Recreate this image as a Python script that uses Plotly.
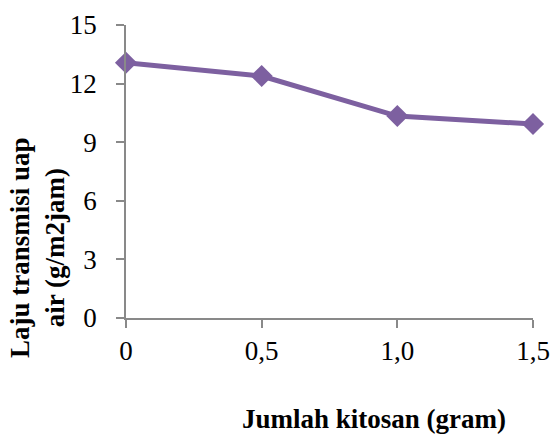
import plotly.graph_objects as go

kitosan = [0, 0.5, 1.0, 1.5]
laju = [13.07, 12.39, 10.34, 9.93]
x_ticks = [0, 0.5, 1.0, 1.5]
x_labels = ["0", "0,5", "1,0", "1,5"]
y_ticks = [0, 3, 6, 9, 12, 15]

W, H = 554, 434
L, R, T, B = 126, 21, 25, 116
pw, ph = W - L - R, H - T - B

font = "Liberation Serif, Times New Roman, serif"

fig = go.Figure(go.Scatter(
    x=kitosan, y=laju, mode="lines+markers",
    line=dict(color="#7D60A0", width=5),
    marker=dict(symbol="diamond", size=17, color="#7D60A0"),
    cliponaxis=False,
))

fig.update_layout(
    width=W, height=H, margin=dict(l=L, r=R, t=T, b=B, pad=0, autoexpand=False),
    plot_bgcolor="white", paper_bgcolor="white", showlegend=False,
    font=dict(family=font, color="black", size=27),
)
fig.update_xaxes(range=[0, 1.5], tickvals=x_ticks, ticktext=x_labels,
                 showgrid=False, zeroline=False, showline=True,
                 linecolor="#898989", linewidth=1.5, ticks="outside",
                 ticklen=8, tickcolor="#898989", tickwidth=1.5,
                 ticklabelstandoff=0, tickfont=dict(size=27), automargin=False)
fig.update_yaxes(range=[0, 15], tickvals=y_ticks,
                 showgrid=False, zeroline=False, showline=True,
                 linecolor="#898989", linewidth=1.5, ticks="outside",
                 ticklen=8, tickcolor="#898989", tickwidth=1.5,
                 ticklabelstandoff=14, tickfont=dict(size=27), automargin=False)

fig.add_annotation(text="<b>Laju transmisi uap<br>air (g/m2jam)</b>",
                   xref="paper", yref="paper",
                   x=(37 - L) / pw, y=(H - B - 248) / ph,
                   xanchor="center", yanchor="middle",
                   textangle=-90, showarrow=False,
                   font=dict(family=font, size=27, color="black"))
fig.add_annotation(text="<b>Jumlah kitosan (gram)</b>",
                   xref="paper", yref="paper",
                   x=(374 - L) / pw, y=(H - B - 419) / ph,
                   xanchor="center", yanchor="middle",
                   showarrow=False,
                   font=dict(family=font, size=27, color="black"))

fig.write_html("out.html", config={"displayModeBar": False},
               post_script="document.body.style.margin='0';")
